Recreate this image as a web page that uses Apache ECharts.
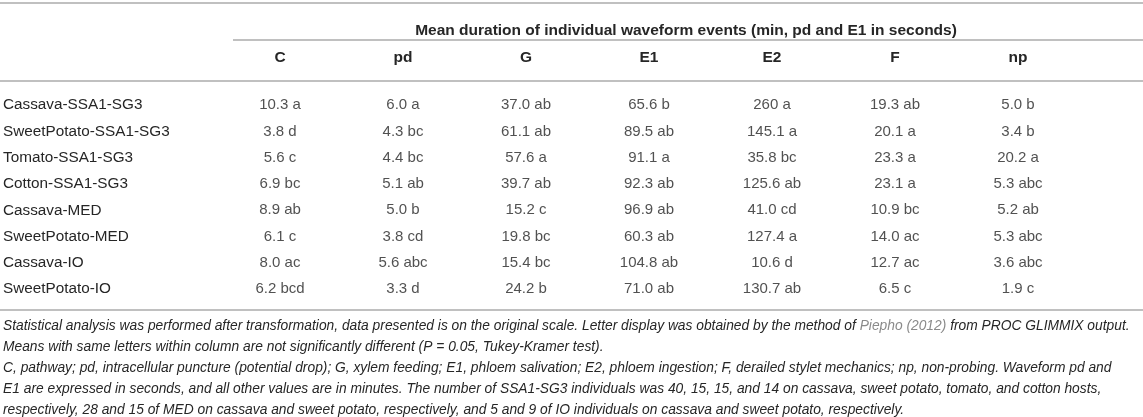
<!DOCTYPE html>
<html>
<head>
<meta charset="utf-8">
<script src="https://cdn.jsdelivr.net/npm/echarts@6/dist/echarts.min.js"></script>
<style>
  html, body { margin: 0; padding: 0; background: #fff; }
  #main { width: 1143px; height: 417px; }
</style>
</head>
<body>
<div id="main"></div>
<script>
// 行标签（寄主-种群）
var rows = ['Cassava-SSA1-SG3', 'SweetPotato-SSA1-SG3', 'Tomato-SSA1-SG3', 'Cotton-SSA1-SG3',
            'Cassava-MED', 'SweetPotato-MED', 'Cassava-IO', 'SweetPotato-IO'];
// 列标签（波形事件）
var cols = ['C', 'pd', 'G', 'E1', 'E2', 'F', 'np'];

// 每列的均值与字母标记
var valC  = ['10.3', '3.8', '5.6', '6.9', '8.9', '6.1', '8.0', '6.2'];
var letC  = ['a', 'd', 'c', 'bc', 'ab', 'c', 'ac', 'bcd'];
var valPd = ['6.0', '4.3', '4.4', '5.1', '5.0', '3.8', '5.6', '3.3'];
var letPd = ['a', 'bc', 'bc', 'ab', 'b', 'cd', 'abc', 'd'];
var valG  = ['37.0', '61.1', '57.6', '39.7', '15.2', '19.8', '15.4', '24.2'];
var letG  = ['ab', 'ab', 'a', 'ab', 'c', 'bc', 'bc', 'b'];
var valE1 = ['65.6', '89.5', '91.1', '92.3', '96.9', '60.3', '104.8', '71.0'];
var letE1 = ['b', 'ab', 'a', 'ab', 'ab', 'ab', 'ab', 'ab'];
var valE2 = ['260', '145.1', '35.8', '125.6', '41.0', '127.4', '10.6', '130.7'];
var letE2 = ['a', 'a', 'bc', 'ab', 'cd', 'a', 'd', 'ab'];
var valF  = ['19.3', '20.1', '23.3', '23.1', '10.9', '14.0', '12.7', '6.5'];
var letF  = ['ab', 'a', 'a', 'a', 'bc', 'ac', 'ac', 'c'];
var valNp = ['5.0', '3.4', '20.2', '5.3', '5.2', '5.3', '3.6', '1.9'];
var letNp = ['b', 'b', 'a', 'abc', 'ab', 'abc', 'abc', 'c'];

var colValues  = [valC, valPd, valG, valE1, valE2, valF, valNp];
var colLetters = [letC, letPd, letG, letE1, letE2, letF, letNp];

var headerText = 'Mean duration of individual waveform events (min, pd and E1 in seconds)';
var notes = [
  'Statistical analysis was performed after transformation, data presented is on the original scale. Letter display was obtained by the method of {link|Piepho (2012)} from PROC GLIMMIX output.',
  'Means with same letters within column are not significantly different (P = 0.05, Tukey-Kramer test).',
  'C, pathway; pd, intracellular puncture (potential drop); G, xylem feeding; E1, phloem salivation; E2, phloem ingestion; F, derailed stylet mechanics; np, non-probing. Waveform pd and',
  'E1 are expressed in seconds, and all other values are in minutes. The number of SSA1-SG3 individuals was 40, 15, 15, and 14 on cassava, sweet potato, tomato, and cotton hosts,',
  'respectively, 28 and 15 of MED on cassava and sweet potato, respectively, and 5 and 9 of IO individuals on cassava and sweet potato, respectively.'
];

var FONT = '"Liberation Sans", Arial, Helvetica, sans-serif';
var TXT = '#262626';
var RULE = '#c0c0c0';
var NOTE_FONT = 'italic 13.8px ' + FONT;

var myChart = echarts.init(document.getElementById('main'));

// 每列一个散点系列，只显示标签
var series = [];
for (var c = 0; c < cols.length; c++) {
    var data = [];
    for (var r = 0; r < rows.length; r++) {
        data.push({ value: [c, r], cell: colValues[c][r] + ' ' + colLetters[c][r] });
    }
    series.push({
        name: cols[c],
        type: 'scatter',
        symbolSize: 0,
        silent: true,
        data: data,
        label: {
            show: true,
            position: 'inside',
            color: TXT,
            fontFamily: FONT,
            fontSize: 15,
            formatter: function (p) { return p.data.cell; }
        }
    });
}

// 表格横线和脚注
var graphics = [
    { type: 'line', shape: { x1: 0, y1: 3, x2: 1143, y2: 3 }, style: { stroke: RULE, lineWidth: 2 } },
    { type: 'line', shape: { x1: 233, y1: 40, x2: 1143, y2: 40 }, style: { stroke: RULE, lineWidth: 2 } },
    { type: 'line', shape: { x1: 0, y1: 81, x2: 1143, y2: 81 }, style: { stroke: RULE, lineWidth: 2 } },
    { type: 'line', shape: { x1: 0, y1: 310, x2: 1143, y2: 310 }, style: { stroke: RULE, lineWidth: 2 } }
];
for (var i = 0; i < notes.length; i++) {
    graphics.push({
        type: 'text',
        left: 3,
        top: 319.5 + i * 20.9,
        style: {
            text: notes[i],
            fill: TXT,
            font: NOTE_FONT,
            rich: {
                link: { fill: '#8a8a8a', font: NOTE_FONT }
            }
        }
    });
}

myChart.setOption({
    animation: false,
    title: {
        text: headerText,
        left: 681,
        top: 18,
        textAlign: 'center',
        textStyle: { color: TXT, fontFamily: FONT, fontSize: 15.5, fontWeight: 'bold' }
    },
    grid: { left: 218.5, right: 63.5, top: 92, height: 210.3 },
    xAxis: {
        type: 'category',
        position: 'top',
        data: cols,
        axisLine: { show: false },
        axisTick: { show: false },
        splitLine: { show: false },
        axisLabel: {
            color: TXT, fontFamily: FONT, fontSize: 15.5, fontWeight: 'bold',
            margin: 26
        }
    },
    yAxis: {
        type: 'category',
        inverse: true,
        data: rows,
        axisLine: { show: false },
        axisTick: { show: false },
        splitLine: { show: false },
        axisLabel: {
            color: TXT, fontFamily: FONT, fontSize: 15.3,
            align: 'left',
            margin: 215.5
        }
    },
    graphic: graphics,
    series: series
});
</script>
</body>
</html>
